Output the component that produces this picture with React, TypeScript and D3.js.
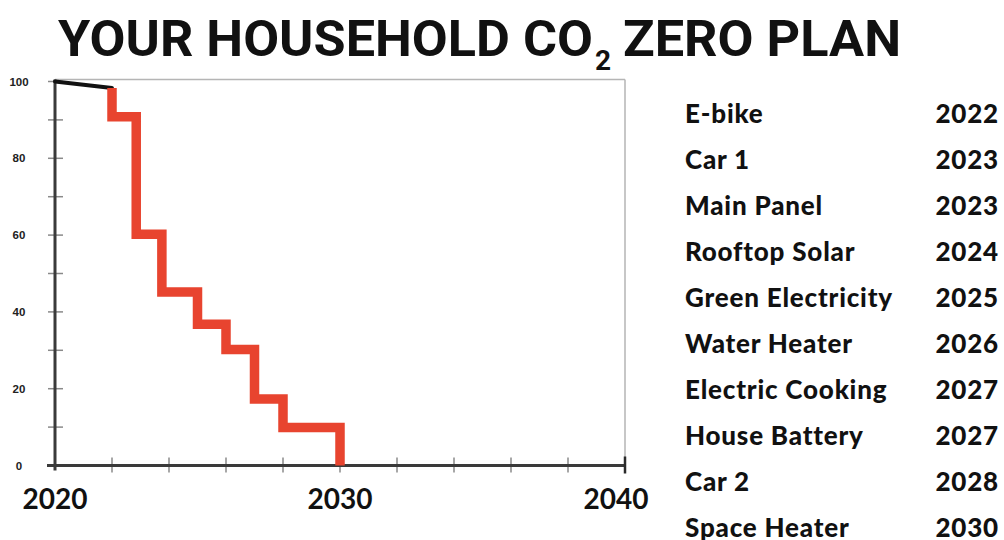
import React from "react";
import * as d3 from "d3";

// Household measures and the year each is planned
const measures = [
  "E-bike",
  "Car 1",
  "Main Panel",
  "Rooftop Solar",
  "Green Electricity",
  "Water Heater",
  "Electric Cooking",
  "House Battery",
  "Car 2",
  "Space Heater",
];
const measureYears = [2022, 2023, 2023, 2024, 2025, 2026, 2027, 2027, 2028, 2030];

// Baseline trend before the first measure (year, % of emissions)
const baselineYears = [2020, 2022];
const baselineValues = [100, 98.3];

// Stepped emissions path (step year, level reached after the step)
const stepYears = [2022, 2022, 2022.85, 2023.75, 2025, 2026, 2027, 2028, 2030];
const stepValues = [98.3, 90.8, 60.2, 45.2, 36.8, 30.2, 17.3, 9.9, 0];

// Axis ticks
const yMajorTicks = [0, 20, 40, 60, 80, 100];
const yMinorTicks = [10, 30, 50, 70, 90];
const xMinorTicks = [2022, 2024, 2026, 2028, 2030, 2032, 2034, 2036, 2038];
const xLabelTicks = [2020, 2030, 2040];

const W = 1004;
const H = 540;

export default function App() {
  const x = d3.scaleLinear().domain([2020, 2040]).range([55, 625]);
  const y = d3.scaleLinear().domain([0, 100]).range([465.5, 81.5]);

  const baseLine = d3
    .line<number>()
    .x((d, i) => x(baselineYears[i]))
    .y((d) => y(d))(baselineValues) as string;

  const stepLine = d3
    .line<number>()
    .x((d, i) => x(stepYears[i]))
    .y((d) => y(d))
    .curve(d3.curveStepAfter)(stepValues) as string;

  const listFont = "Lato, 'Open Sans', sans-serif";
  const rowTop = 123;
  const rowGap = 46;

  return (
    <div style={{ position: "absolute", left: 0, top: 0 }}>
      <svg width={W} height={H} style={{ display: "block", background: "#fff" }}>
        {/* Title */}
        <g fontFamily="Roboto, 'Open Sans', sans-serif" fontWeight={700} fill="#111">
          <text x={58} y={56} fontSize={50} textLength={535} lengthAdjust="spacingAndGlyphs">
            YOUR HOUSEHOLD CO
          </text>
          <text x={595} y={70} fontSize={28}>
            2
          </text>
          <text x={623} y={56} fontSize={50} textLength={278} lengthAdjust="spacingAndGlyphs">
            ZERO PLAN
          </text>
        </g>

        {/* Plot frame (top and right) */}
        <line x1={x(2020)} x2={x(2040)} y1={79.5} y2={79.5} stroke="#b5b5b5" strokeWidth={1.5} />
        <line x1={x(2040)} x2={x(2040)} y1={79.5} y2={y(0)} stroke="#b5b5b5" strokeWidth={1.5} />

        {/* Y axis */}
        {yMinorTicks.concat(yMajorTicks).map((t) => (
          <line key={"yt" + t} x1={48} x2={63} y1={y(t)} y2={y(t)} stroke="#8a8a8a" strokeWidth={1.5} />
        ))}
        <line x1={x(2020)} x2={x(2020)} y1={79.5} y2={y(0) + 5} stroke="#3a3a3a" strokeWidth={3} />
        {yMajorTicks.map((t) => (
          <text
            key={"yl" + t}
            x={19}
            y={y(t) + 4}
            textAnchor="middle"
            fontSize={11.5}
            fontWeight={700}
            fontFamily="'Liberation Sans', Arial, sans-serif"
            fill="#222"
          >
            {t}
          </text>
        ))}

        {/* X axis */}
        {xMinorTicks.map((t) => (
          <line key={"xt" + t} x1={x(t)} x2={x(t)} y1={y(0) - 8} y2={y(0) + 7} stroke="#8a8a8a" strokeWidth={1.5} />
        ))}
        <line x1={47} x2={x(2040)} y1={y(0)} y2={y(0)} stroke="#3a3a3a" strokeWidth={3} />
        <line x1={x(2040)} x2={x(2040)} y1={y(0) - 9} y2={y(0) + 8} stroke="#2a2a2a" strokeWidth={2.5} />
        {xLabelTicks.map((t, i) => (
          <text
            key={"xl" + t}
            x={x(t)}
            dx={i === xLabelTicks.length - 1 ? -9 : 0}
            y={509}
            textAnchor="middle"
            fontSize={28}
            fontWeight={700}
            fontFamily={listFont}
            fill="#111"
          >
            {t}
          </text>
        ))}

        {/* Emissions path */}
        <path d={baseLine} fill="none" stroke="#111" strokeWidth={4} strokeLinecap="round" />
        <path d={stepLine} fill="none" stroke="#e8442f" strokeWidth={9.5} strokeLinejoin="miter" />

        {/* Measures list */}
        <g fontFamily={listFont} fontWeight={900} fontSize={26} letterSpacing={0.8} fill="#111">
          {measures.map((m, i) => (
            <g key={m}>
              <text x={685} y={rowTop + i * rowGap}>
                {m}
              </text>
              <text x={999} y={rowTop + i * rowGap} textAnchor="end">
                {measureYears[i]}
              </text>
            </g>
          ))}
        </g>
      </svg>
    </div>
  );
}
